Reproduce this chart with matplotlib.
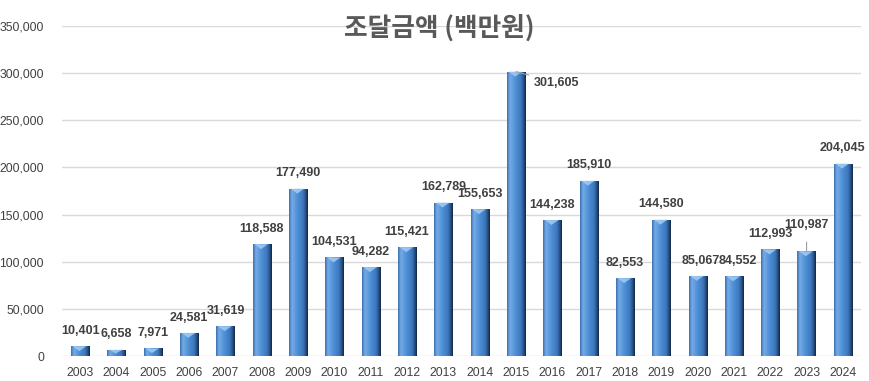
import numpy as np
import matplotlib.pyplot as plt
from matplotlib.colors import LinearSegmentedColormap
from matplotlib.patches import Polygon

years = [str(y) for y in range(2003, 2025)]
amounts = [10401, 6658, 7971, 24581, 31619, 118588, 177490, 104531, 94282, 115421,
           162789, 155653, 301605, 144238, 185910, 82553, 144580, 85067, 84552,
           112993, 110987, 204045]
title = '조달금액 (백만원)'

plt.rcParams['font.family'] = ['Liberation Sans', 'DejaVu Sans']

fig = plt.figure(figsize=(8.7, 3.81), dpi=100)
ax = fig.add_axes([0.0713, 0.0656, 0.9184, 0.8662])

x = np.arange(len(years))
w = 0.5
bars = ax.bar(x, amounts, width=w, color='none', edgecolor='none', zorder=3)

# horizontal gradient for the "3D" cylinder look
cmap = LinearSegmentedColormap.from_list('barg', [
    (0.0, '#3b70b0'), (0.15, '#74abe6'), (0.45, '#4f8fd6'),
    (0.75, '#3c77bd'), (0.9, '#244d82'), (1.0, '#13263f')])
grad = np.linspace(0, 1, 64).reshape(1, -1)
for b, v in zip(bars, amounts):
    x0 = b.get_x()
    im = ax.imshow(grad, cmap=cmap, aspect='auto', extent=(x0, x0 + w, 0, v),
                   zorder=3, interpolation='bilinear')
    im.set_clip_path(b)
    d = min(5300, v * 0.6)
    tri = Polygon([(x0 + 0.05, v), (x0 + w - 0.08, v), (x0 + w * 0.45, v - d)],
                  closed=True, facecolor='#a8d0f7', edgecolor='none', alpha=0.8, zorder=4)
    ax.add_patch(tri)

ax.set_xlim(-0.5, len(years) - 0.5)
ax.set_ylim(0, 350000)
ax.set_yticks(np.arange(0, 350001, 50000))
ax.yaxis.set_major_formatter(plt.FuncFormatter(lambda v, p: f'{int(v):,}'))
ax.set_xticks(x)
ax.set_xticklabels(years)
ax.tick_params(axis='both', length=0, labelsize=8.8, colors='#404040')
ax.tick_params(axis='y', pad=13)
ax.tick_params(axis='x', pad=8)
ax.grid(axis='y', color='#d9d9d9', linewidth=1, zorder=0)
ax.set_axisbelow(True)
for s in ax.spines.values():
    s.set_visible(False)

# data labels
for i, v in enumerate(amounts):
    dx, dy = 0, 11
    if years[i] == '2015':
        ax.annotate(f'{v:,}', (i, v), xytext=(i + 0.5, v - 12000), ha='left', va='center',
                    fontsize=9, fontweight='bold', color='#404040', zorder=5,
                    arrowprops=dict(arrowstyle='-', color='#a0a0a0', lw=0.8,
                                    shrinkA=2, shrinkB=0))
        continue
    if years[i] == '2023':
        ax.annotate(f'{v:,}', (i, v), xytext=(i, v + 28000), ha='center', va='center',
                    fontsize=9, fontweight='bold', color='#404040', zorder=5,
                    arrowprops=dict(arrowstyle='-', color='#a0a0a0', lw=0.8,
                                    shrinkA=6, shrinkB=0))
        continue
    if years[i] == '2020':
        dx = 2
    if years[i] == '2021':
        dx = 3
    ax.annotate(f'{v:,}', (i, v), xytext=(dx, dy), textcoords='offset points',
                ha='center', va='center', fontsize=9, fontweight='bold',
                color='#404040', zorder=5)

fig.text(0.505, 0.927, title, ha='center', va='center', fontsize=18.5, fontweight='bold',
         color='#595959', family=['Noto Sans CJK KR', 'DejaVu Sans'])

fig.savefig('out.png', dpi=100)
